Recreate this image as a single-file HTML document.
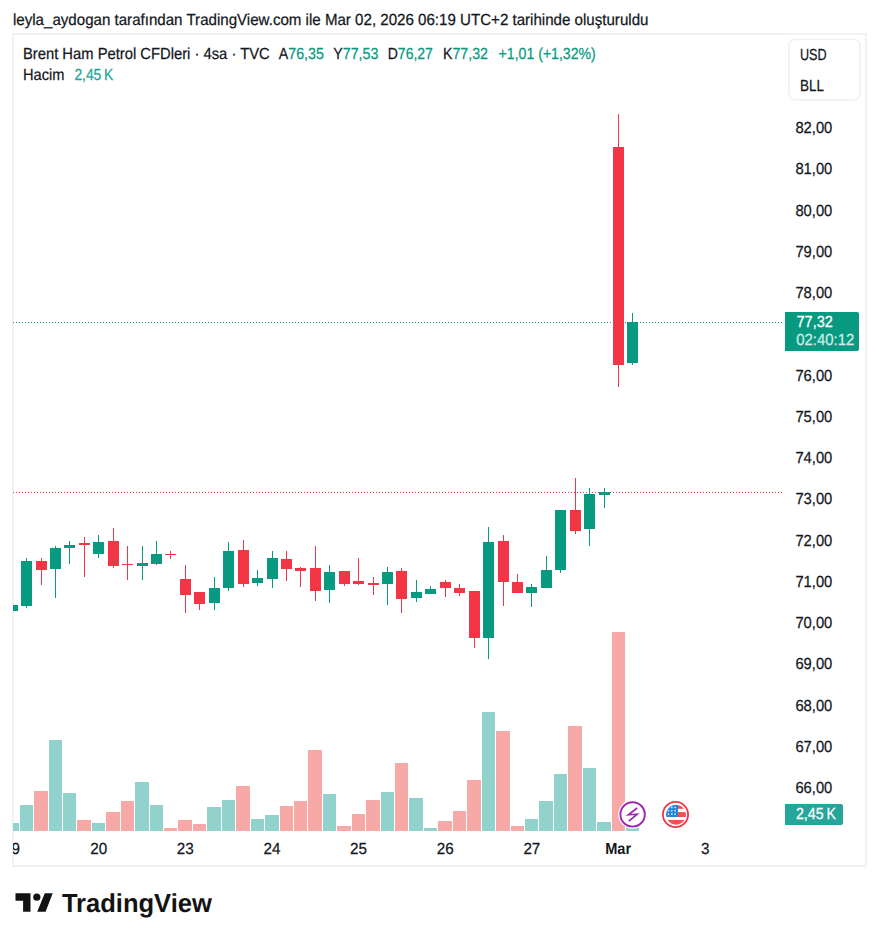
<!DOCTYPE html>
<html><head><meta charset="utf-8"><title>Brent Ham Petrol CFDleri</title>
<style>
html,body{margin:0;padding:0;background:#fff;}
body{width:879px;height:941px;position:relative;overflow:hidden;}
svg{position:absolute;left:0;top:0;}
text{font-family:"Liberation Sans",Arial,sans-serif;white-space:pre;text-rendering:geometricPrecision;stroke:currentColor;stroke-width:0.25px;}
</style></head><body>
<svg width="879" height="941" viewBox="0 0 879 941">
<defs>
<clipPath id="pane"><rect x="13" y="35" width="770" height="796"/></clipPath>
<clipPath id="tax"><rect x="13" y="835" width="770" height="30"/></clipPath>
<clipPath id="fc"><circle cx="676" cy="814.8" r="10"/></clipPath>
</defs>
<rect x="13" y="34" width="853" height="832" fill="none" stroke="#f2f2f2" stroke-width="2"/>
<rect x="789" y="39.3" width="71" height="60.5" rx="6" fill="#fff" stroke="#f2f2f2" stroke-width="1.8"/>
<g clip-path="url(#pane)" shape-rendering="crispEdges">
<line x1="13" y1="322.5" x2="783" y2="322.5" stroke="#089981" stroke-width="1" stroke-dasharray="1 2"/>
<line x1="13" y1="492.5" x2="783" y2="492.5" stroke="#f23645" stroke-width="1" stroke-dasharray="1 2"/>
<rect x="6" y="823" width="13" height="8" fill="#92d2cc"/>
<rect x="20" y="805" width="13" height="26" fill="#92d2cc"/>
<rect x="34" y="791" width="14" height="40" fill="#f7a9a7"/>
<rect x="49" y="740" width="13" height="91" fill="#92d2cc"/>
<rect x="63" y="793" width="13" height="38" fill="#92d2cc"/>
<rect x="77" y="820" width="14" height="11" fill="#f7a9a7"/>
<rect x="92" y="823" width="13" height="8" fill="#92d2cc"/>
<rect x="106" y="812" width="14" height="19" fill="#f7a9a7"/>
<rect x="121" y="801" width="13" height="30" fill="#f7a9a7"/>
<rect x="135" y="782" width="14" height="49" fill="#92d2cc"/>
<rect x="150" y="805" width="13" height="26" fill="#92d2cc"/>
<rect x="164" y="828" width="13" height="3" fill="#f7a9a7"/>
<rect x="178" y="820" width="14" height="11" fill="#f7a9a7"/>
<rect x="193" y="824" width="13" height="7" fill="#f7a9a7"/>
<rect x="207" y="807" width="14" height="24" fill="#92d2cc"/>
<rect x="222" y="800" width="13" height="31" fill="#92d2cc"/>
<rect x="236" y="786" width="14" height="45" fill="#f7a9a7"/>
<rect x="251" y="819" width="13" height="12" fill="#92d2cc"/>
<rect x="265" y="815" width="14" height="16" fill="#92d2cc"/>
<rect x="280" y="806" width="13" height="25" fill="#f7a9a7"/>
<rect x="294" y="801" width="13" height="30" fill="#f7a9a7"/>
<rect x="308" y="750" width="14" height="81" fill="#f7a9a7"/>
<rect x="323" y="794" width="13" height="37" fill="#92d2cc"/>
<rect x="337" y="826" width="14" height="5" fill="#f7a9a7"/>
<rect x="352" y="814" width="13" height="17" fill="#f7a9a7"/>
<rect x="366" y="800" width="14" height="31" fill="#f7a9a7"/>
<rect x="381" y="792" width="13" height="39" fill="#92d2cc"/>
<rect x="395" y="763" width="13" height="68" fill="#f7a9a7"/>
<rect x="409" y="798" width="14" height="33" fill="#92d2cc"/>
<rect x="424" y="828" width="13" height="3" fill="#92d2cc"/>
<rect x="438" y="821" width="14" height="10" fill="#f7a9a7"/>
<rect x="453" y="811" width="13" height="20" fill="#f7a9a7"/>
<rect x="467" y="780" width="14" height="51" fill="#f7a9a7"/>
<rect x="482" y="712" width="13" height="119" fill="#92d2cc"/>
<rect x="496" y="731" width="14" height="100" fill="#f7a9a7"/>
<rect x="511" y="826" width="13" height="5" fill="#f7a9a7"/>
<rect x="525" y="819" width="13" height="12" fill="#92d2cc"/>
<rect x="539" y="801" width="14" height="30" fill="#92d2cc"/>
<rect x="554" y="774" width="13" height="57" fill="#92d2cc"/>
<rect x="568" y="726" width="14" height="105" fill="#f7a9a7"/>
<rect x="583" y="768" width="13" height="63" fill="#92d2cc"/>
<rect x="597" y="822" width="14" height="9" fill="#92d2cc"/>
<rect x="612" y="632" width="13" height="199" fill="#f7a9a7"/>
<rect x="626" y="827" width="13" height="4" fill="#92d2cc"/>
<rect x="12" y="605" width="1" height="6" fill="#089981"/>
<rect x="7" y="605" width="11" height="6" fill="#089981"/>
<rect x="26" y="558" width="1" height="50" fill="#089981"/>
<rect x="21" y="561" width="11" height="45" fill="#089981"/>
<rect x="41" y="558" width="1" height="27" fill="#f23645"/>
<rect x="36" y="561" width="11" height="9" fill="#f23645"/>
<rect x="55" y="546" width="1" height="52" fill="#089981"/>
<rect x="50" y="548" width="11" height="21" fill="#089981"/>
<rect x="69" y="541" width="1" height="23" fill="#089981"/>
<rect x="64" y="545" width="11" height="3" fill="#089981"/>
<rect x="84" y="537" width="1" height="40" fill="#f23645"/>
<rect x="79" y="543" width="11" height="2" fill="#f23645"/>
<rect x="98" y="535" width="1" height="23" fill="#089981"/>
<rect x="93" y="542" width="11" height="12" fill="#089981"/>
<rect x="113" y="528" width="1" height="40" fill="#f23645"/>
<rect x="108" y="541" width="11" height="25" fill="#f23645"/>
<rect x="127" y="546" width="1" height="34" fill="#f23645"/>
<rect x="122" y="564" width="11" height="1" fill="#f23645"/>
<rect x="142" y="546" width="1" height="34" fill="#089981"/>
<rect x="137" y="563" width="11" height="3" fill="#089981"/>
<rect x="156" y="541" width="1" height="24" fill="#089981"/>
<rect x="151" y="554" width="11" height="10" fill="#089981"/>
<rect x="170" y="551" width="1" height="8" fill="#f23645"/>
<rect x="165" y="554" width="11" height="1" fill="#f23645"/>
<rect x="185" y="565" width="1" height="48" fill="#f23645"/>
<rect x="180" y="579" width="11" height="16" fill="#f23645"/>
<rect x="199" y="592" width="1" height="18" fill="#f23645"/>
<rect x="194" y="592" width="11" height="12" fill="#f23645"/>
<rect x="214" y="577" width="1" height="33" fill="#089981"/>
<rect x="209" y="588" width="11" height="15" fill="#089981"/>
<rect x="228" y="542" width="1" height="49" fill="#089981"/>
<rect x="223" y="551" width="11" height="37" fill="#089981"/>
<rect x="243" y="540" width="1" height="47" fill="#f23645"/>
<rect x="238" y="550" width="11" height="34" fill="#f23645"/>
<rect x="257" y="570" width="1" height="16" fill="#089981"/>
<rect x="252" y="578" width="11" height="5" fill="#089981"/>
<rect x="272" y="551" width="1" height="37" fill="#089981"/>
<rect x="267" y="558" width="11" height="21" fill="#089981"/>
<rect x="286" y="551" width="1" height="30" fill="#f23645"/>
<rect x="281" y="559" width="11" height="10" fill="#f23645"/>
<rect x="300" y="567" width="1" height="20" fill="#f23645"/>
<rect x="295" y="568" width="11" height="3" fill="#f23645"/>
<rect x="315" y="546" width="1" height="55" fill="#f23645"/>
<rect x="310" y="568" width="11" height="23" fill="#f23645"/>
<rect x="329" y="565" width="1" height="38" fill="#089981"/>
<rect x="324" y="572" width="11" height="18" fill="#089981"/>
<rect x="344" y="571" width="1" height="15" fill="#f23645"/>
<rect x="339" y="571" width="11" height="13" fill="#f23645"/>
<rect x="358" y="558" width="1" height="27" fill="#f23645"/>
<rect x="353" y="581" width="11" height="3" fill="#f23645"/>
<rect x="373" y="577" width="1" height="18" fill="#f23645"/>
<rect x="368" y="583" width="11" height="2" fill="#f23645"/>
<rect x="387" y="567" width="1" height="38" fill="#089981"/>
<rect x="382" y="572" width="11" height="12" fill="#089981"/>
<rect x="401" y="568" width="1" height="45" fill="#f23645"/>
<rect x="396" y="571" width="11" height="28" fill="#f23645"/>
<rect x="416" y="580" width="1" height="22" fill="#089981"/>
<rect x="411" y="592" width="11" height="6" fill="#089981"/>
<rect x="430" y="586" width="1" height="8" fill="#089981"/>
<rect x="425" y="589" width="11" height="5" fill="#089981"/>
<rect x="445" y="580" width="1" height="17" fill="#f23645"/>
<rect x="440" y="582" width="11" height="6" fill="#f23645"/>
<rect x="459" y="584" width="1" height="12" fill="#f23645"/>
<rect x="454" y="588" width="11" height="5" fill="#f23645"/>
<rect x="474" y="591" width="1" height="57" fill="#f23645"/>
<rect x="469" y="591" width="11" height="47" fill="#f23645"/>
<rect x="488" y="527" width="1" height="132" fill="#089981"/>
<rect x="483" y="542" width="11" height="96" fill="#089981"/>
<rect x="503" y="535" width="1" height="71" fill="#f23645"/>
<rect x="498" y="541" width="11" height="41" fill="#f23645"/>
<rect x="517" y="574" width="1" height="19" fill="#f23645"/>
<rect x="512" y="582" width="11" height="11" fill="#f23645"/>
<rect x="531" y="584" width="1" height="23" fill="#089981"/>
<rect x="526" y="587" width="11" height="6" fill="#089981"/>
<rect x="546" y="556" width="1" height="32" fill="#089981"/>
<rect x="541" y="570" width="11" height="18" fill="#089981"/>
<rect x="560" y="510" width="1" height="63" fill="#089981"/>
<rect x="555" y="510" width="11" height="60" fill="#089981"/>
<rect x="575" y="478" width="1" height="56" fill="#f23645"/>
<rect x="570" y="510" width="11" height="21" fill="#f23645"/>
<rect x="589" y="488" width="1" height="58" fill="#089981"/>
<rect x="584" y="494" width="11" height="35" fill="#089981"/>
<rect x="604" y="488" width="1" height="20" fill="#089981"/>
<rect x="599" y="492" width="11" height="3" fill="#089981"/>
<rect x="618" y="114" width="1" height="273" fill="#f23645"/>
<rect x="613" y="147" width="11" height="218" fill="#f23645"/>
<rect x="632" y="313" width="1" height="52" fill="#089981"/>
<rect x="627" y="322" width="11" height="41" fill="#089981"/>
</g>
<path d="M785 312 H857 A2 2 0 0 1 859 314 V349 A2 2 0 0 1 857 351 H785 Z" fill="#089981"/>
<path d="M785 804 H841 A2 2 0 0 1 843 806 V823 A2 2 0 0 1 841 825 H785 Z" fill="#26a69a"/>
<circle cx="632.6" cy="814.4" r="14.3" fill="#fff"/>
<circle cx="632.6" cy="814.4" r="12.2" fill="#fff" stroke="#9c27b0" stroke-width="1.9"/>
<polyline points="637.2,808 628.4,814.8 637.2,814.2 628.8,821.2" fill="none" stroke="#9c27b0" stroke-width="1.7" stroke-linejoin="miter" stroke-miterlimit="10"/>
<circle cx="675.5" cy="814.5" r="14.3" fill="#fff"/>
<circle cx="675.5" cy="814.5" r="12.6" fill="#fff" stroke="#f23645" stroke-width="1.8"/>
<g clip-path="url(#fc)">
<rect x="665" y="804" width="22" height="22" fill="#fff"/>
<rect x="678" y="804.9" width="10" height="3.9" fill="#ef5350"/>
<rect x="678" y="812.1" width="10" height="4.9" fill="#ef5350"/>
<rect x="665" y="820" width="22" height="6" fill="#ef5350"/>
<rect x="665" y="804" width="13" height="13" fill="#2184e0"/>
<g fill="#fff"><rect x="667.8" y="806.8" width="1.4" height="1.4"/><rect x="671.1" y="806.8" width="1.4" height="1.4"/><rect x="674.4" y="806.8" width="1.4" height="1.4"/>
<rect x="667.8" y="810.1" width="1.4" height="1.4"/><rect x="671.1" y="810.1" width="1.4" height="1.4"/><rect x="674.4" y="810.1" width="1.4" height="1.4"/>
<rect x="667.8" y="813.4" width="1.4" height="1.4"/><rect x="671.1" y="813.4" width="1.4" height="1.4"/><rect x="674.4" y="813.4" width="1.4" height="1.4"/></g>
</g>
<path d="M15.5 893.3 H30.5 V911.8 H23.1 V900.8 H15.5 Z" fill="#131313"/>
<circle cx="36.8" cy="897.2" r="3.6" fill="#131313"/>
<path d="M44.8 893.3 H52.7 L45.6 911.8 H37.2 Z" fill="#131313"/>
<text x="12.96" y="25.00" fill="#131722" color="#131722" font-size="16.0" font-weight="normal" textLength="635.49" lengthAdjust="spacingAndGlyphs">leyla_aydogan tarafından TradingView.com ile Mar 02, 2026 06:19 UTC+2 tarihinde oluşturuldu</text>
<text x="22.98" y="58.90" fill="#131722" color="#131722" font-size="16.0" font-weight="normal" textLength="246.73" lengthAdjust="spacingAndGlyphs">Brent Ham Petrol CFDleri · 4sa · TVC</text>
<text x="278.80" y="58.90" font-size="16.0" font-weight="normal" textLength="45.01" lengthAdjust="spacingAndGlyphs"><tspan fill="#131722" color="#131722">A</tspan><tspan fill="#089981" color="#089981">76,35</tspan></text>
<text x="333.30" y="58.90" font-size="16.0" font-weight="normal" textLength="45.01" lengthAdjust="spacingAndGlyphs"><tspan fill="#131722" color="#131722">Y</tspan><tspan fill="#089981" color="#089981">77,53</tspan></text>
<text x="387.72" y="58.90" font-size="16.0" font-weight="normal" textLength="45.19" lengthAdjust="spacingAndGlyphs"><tspan fill="#131722" color="#131722">D</tspan><tspan fill="#089981" color="#089981">76,27</tspan></text>
<text x="443.01" y="58.90" font-size="16.0" font-weight="normal" textLength="44.90" lengthAdjust="spacingAndGlyphs"><tspan fill="#131722" color="#131722">K</tspan><tspan fill="#089981" color="#089981">77,32</tspan></text>
<text x="498.60" y="58.90" fill="#089981" color="#089981" font-size="16.0" font-weight="normal" textLength="97.19" lengthAdjust="spacingAndGlyphs">+1,01 (+1,32%)</text>
<text x="22.99" y="80.00" fill="#131722" color="#131722" font-size="16.0" font-weight="normal" textLength="41.41" lengthAdjust="spacingAndGlyphs">Hacim</text>
<text x="74.40" y="80.00" fill="#22a69a" color="#22a69a" font-size="16.0" font-weight="normal" textLength="38.92" lengthAdjust="spacingAndGlyphs">2,45 K</text>
<text x="800.01" y="60.00" fill="#131722" color="#131722" font-size="16.0" font-weight="normal" textLength="26.63" lengthAdjust="spacingAndGlyphs">USD</text>
<text x="799.96" y="91.10" fill="#131722" color="#131722" font-size="16.0" font-weight="normal" textLength="23.96" lengthAdjust="spacingAndGlyphs">BLL</text>
<text x="795.40" y="133.10" fill="#131722" color="#131722" font-size="16.0" font-weight="normal" textLength="36.91" lengthAdjust="spacingAndGlyphs">82,00</text>
<text x="795.40" y="174.35" fill="#131722" color="#131722" font-size="16.0" font-weight="normal" textLength="36.91" lengthAdjust="spacingAndGlyphs">81,00</text>
<text x="795.40" y="215.60" fill="#131722" color="#131722" font-size="16.0" font-weight="normal" textLength="36.91" lengthAdjust="spacingAndGlyphs">80,00</text>
<text x="795.40" y="256.85" fill="#131722" color="#131722" font-size="16.0" font-weight="normal" textLength="36.91" lengthAdjust="spacingAndGlyphs">79,00</text>
<text x="795.40" y="298.10" fill="#131722" color="#131722" font-size="16.0" font-weight="normal" textLength="36.91" lengthAdjust="spacingAndGlyphs">78,00</text>
<text x="795.40" y="380.60" fill="#131722" color="#131722" font-size="16.0" font-weight="normal" textLength="36.91" lengthAdjust="spacingAndGlyphs">76,00</text>
<text x="795.40" y="421.85" fill="#131722" color="#131722" font-size="16.0" font-weight="normal" textLength="36.91" lengthAdjust="spacingAndGlyphs">75,00</text>
<text x="795.40" y="463.10" fill="#131722" color="#131722" font-size="16.0" font-weight="normal" textLength="36.91" lengthAdjust="spacingAndGlyphs">74,00</text>
<text x="795.40" y="504.35" fill="#131722" color="#131722" font-size="16.0" font-weight="normal" textLength="36.91" lengthAdjust="spacingAndGlyphs">73,00</text>
<text x="795.40" y="545.60" fill="#131722" color="#131722" font-size="16.0" font-weight="normal" textLength="36.91" lengthAdjust="spacingAndGlyphs">72,00</text>
<text x="795.40" y="586.85" fill="#131722" color="#131722" font-size="16.0" font-weight="normal" textLength="36.91" lengthAdjust="spacingAndGlyphs">71,00</text>
<text x="795.40" y="628.10" fill="#131722" color="#131722" font-size="16.0" font-weight="normal" textLength="36.91" lengthAdjust="spacingAndGlyphs">70,00</text>
<text x="795.40" y="669.35" fill="#131722" color="#131722" font-size="16.0" font-weight="normal" textLength="36.91" lengthAdjust="spacingAndGlyphs">69,00</text>
<text x="795.40" y="710.60" fill="#131722" color="#131722" font-size="16.0" font-weight="normal" textLength="36.91" lengthAdjust="spacingAndGlyphs">68,00</text>
<text x="795.40" y="751.85" fill="#131722" color="#131722" font-size="16.0" font-weight="normal" textLength="36.91" lengthAdjust="spacingAndGlyphs">67,00</text>
<text x="795.40" y="793.10" fill="#131722" color="#131722" font-size="16.0" font-weight="normal" textLength="36.91" lengthAdjust="spacingAndGlyphs">66,00</text>
<text x="796.50" y="326.90" fill="#ffffff" color="#ffffff" font-size="16.0" font-weight="normal" textLength="36.41" lengthAdjust="spacingAndGlyphs">77,32</text>
<text x="796.20" y="344.90" fill="#cdeee6" color="#cdeee6" font-size="16.0" font-weight="normal" textLength="58.21" lengthAdjust="spacingAndGlyphs">02:40:12</text>
<text x="795.90" y="818.90" fill="#ffffff" color="#ffffff" font-size="16.0" font-weight="normal" textLength="40.01" lengthAdjust="spacingAndGlyphs">2,45 K</text>
<text x="61.90" y="912.00" fill="#131313" color="#131313" font-size="26.0" font-weight="bold" style="stroke:none" textLength="149.94" lengthAdjust="spacingAndGlyphs">TradingView</text>
<g clip-path="url(#tax)">
<text x="3.02" y="854.00" fill="#131722" color="#131722" font-size="16.0" font-weight="normal" textLength="16.91" lengthAdjust="spacingAndGlyphs">19</text>
<text x="90.20" y="854.00" fill="#131722" color="#131722" font-size="16.0" font-weight="normal" textLength="16.91" lengthAdjust="spacingAndGlyphs">20</text>
<text x="176.80" y="854.00" fill="#131722" color="#131722" font-size="16.0" font-weight="normal" textLength="16.91" lengthAdjust="spacingAndGlyphs">23</text>
<text x="263.50" y="854.00" fill="#131722" color="#131722" font-size="16.0" font-weight="normal" textLength="16.91" lengthAdjust="spacingAndGlyphs">24</text>
<text x="350.10" y="854.00" fill="#131722" color="#131722" font-size="16.0" font-weight="normal" textLength="16.91" lengthAdjust="spacingAndGlyphs">25</text>
<text x="436.80" y="854.00" fill="#131722" color="#131722" font-size="16.0" font-weight="normal" textLength="16.91" lengthAdjust="spacingAndGlyphs">26</text>
<text x="523.40" y="854.00" fill="#131722" color="#131722" font-size="16.0" font-weight="normal" textLength="16.91" lengthAdjust="spacingAndGlyphs">27</text>
<text x="605.20" y="854.00" fill="#131722" color="#131722" font-size="16.0" font-weight="bold" style="stroke:none" textLength="25.89" lengthAdjust="spacingAndGlyphs">Mar</text>
<text x="700.93" y="854.00" fill="#131722" color="#131722" font-size="16.0" font-weight="normal" textLength="8.45" lengthAdjust="spacingAndGlyphs">3</text>
</g>
</svg>
</body></html>
